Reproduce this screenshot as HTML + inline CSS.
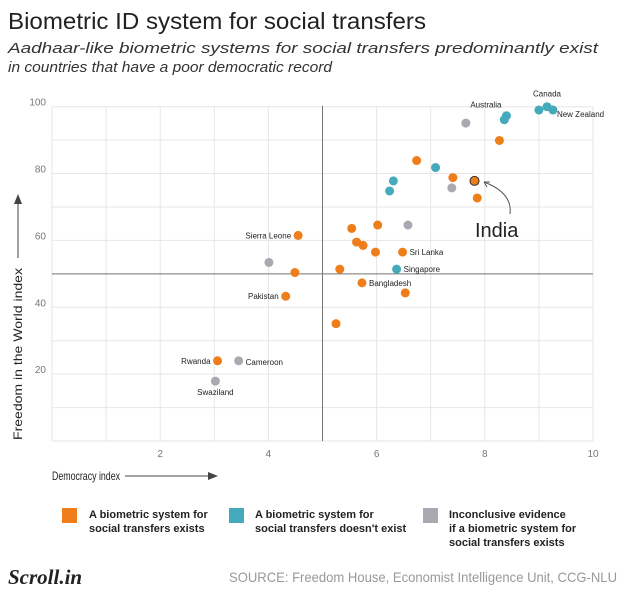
<!DOCTYPE html>
<html><head><meta charset="utf-8"><style>
body{margin:0;background:#fff;}
svg{display:block;font-family:"Liberation Sans",sans-serif;}
</style></head><body>
<svg id="chart" width="640" height="614" viewBox="0 0 640 614">
<text x="8" y="29" font-size="23" fill="#222" textLength="418" lengthAdjust="spacingAndGlyphs">Biometric ID system for social transfers</text>
<text x="8" y="53" font-size="15" font-style="italic" fill="#333" textLength="590" lengthAdjust="spacingAndGlyphs">Aadhaar-like biometric systems for social transfers predominantly exist</text>
<text x="8" y="72" font-size="15" font-style="italic" fill="#333" textLength="324" lengthAdjust="spacingAndGlyphs">in countries that have a poor democratic record</text>
<g id="grid"></g>
<g id="axes"></g>
<g id="points"></g>
<g id="labels"></g>
<text x="475" y="237" font-size="20" fill="#222">India</text>
<path d="M510,214 C512,198 500,188 484,182" fill="none" stroke="#555" stroke-width="1"/>
<path d="M484,182 l6,0 M484,182 l3,5" stroke="#555" stroke-width="1"/>
<text x="52" y="480" font-size="12" fill="#222" textLength="68" lengthAdjust="spacingAndGlyphs">Democracy index</text>
<line x1="125" y1="476" x2="212" y2="476" stroke="#444" stroke-width="1"/>
<polygon points="218,476 208,472 208,480" fill="#444"/>
<text transform="translate(22,440) rotate(-90)" font-size="12" fill="#222" textLength="172" lengthAdjust="spacingAndGlyphs">Freedom in the World index</text>
<line x1="18" y1="258" x2="18" y2="200" stroke="#444" stroke-width="1"/>
<polygon points="18,194 14,204 22,204" fill="#444"/>
<g>
<rect x="62" y="508" width="15" height="15" fill="#ee7d1a"/>
<text font-size="11" font-weight="bold" fill="#222"><tspan x="89" y="518">A biometric system for</tspan><tspan x="89" y="532">social transfers exists</tspan></text>
<rect x="229" y="508" width="15" height="15" fill="#45aabb"/>
<text font-size="11" font-weight="bold" fill="#222"><tspan x="255" y="518">A biometric system for</tspan><tspan x="255" y="532">social transfers doesn't exist</tspan></text>
<rect x="423" y="508" width="15" height="15" fill="#a9a9b2"/>
<text font-size="11" font-weight="bold" fill="#222"><tspan x="449" y="518">Inconclusive evidence</tspan><tspan x="449" y="532">if a biometric system for</tspan><tspan x="449" y="546">social transfers exists</tspan></text>
</g>
<text x="8" y="584" font-family="Liberation Serif,serif" font-size="21" font-style="italic" font-weight="bold" fill="#222">Scroll.in</text>
<text x="229" y="582" font-size="14" fill="#999" textLength="388" lengthAdjust="spacingAndGlyphs">SOURCE: Freedom House, Economist Intelligence Unit, CCG-NLU</text>
</svg>
<script>
const xVals=[9.0,9.15,9.26,8.4,8.36,7.65,8.27,6.74,7.09,7.41,7.81,7.39,7.86,6.31,6.24,5.54,6.02,6.58,4.55,5.63,5.75,5.98,6.48,4.01,4.49,5.32,6.37,5.73,6.53,4.32,5.25,3.06,3.45,3.02];
const yVals=[99,100,99,97.3,96.1,95.1,89.9,83.9,81.8,78.8,77.8,75.7,72.7,77.8,74.8,63.6,64.6,64.6,61.5,59.5,58.5,56.5,56.5,53.4,50.4,51.4,51.4,47.3,44.3,43.3,35.1,24,24,17.9];
const groups=["n","n","n","n","n","g","e","e","n","e","e","g","e","n","n","e","e","g","e","e","e","e","e","g","e","e","n","e","e","e","e","e","g","g"];
const names=["","Canada","New Zealand","Australia","","","","","","","India","","","","","","","","Sierra Leone","","","","Sri Lanka","","","","Singapore","Bangladesh","","Pakistan","","Rwanda","Cameroon","Swaziland"];
const xTicks=[2,4,6,8,10];
const yTicks=[20,40,60,80,100];
const colors={e:"#ee7d1a",n:"#45aabb",g:"#a9a9b2"};
const X=v=>52+v*54.1, Y=v=>441-v*3.343;
const NS="http://www.w3.org/2000/svg";
function mk(tag,attrs,parent){const el=document.createElementNS(NS,tag);for(const k in attrs)el.setAttribute(k,attrs[k]);document.getElementById(parent).appendChild(el);return el;}
for(let i=0;i<=10;i++){const l=mk("line",{x1:X(i),x2:X(i),y1:Y(100),y2:Y(0),stroke:"#e6e6e6","stroke-width":1},"grid");

}
for(let j=0;j<=100;j+=10){const l=mk("line",{x1:X(0),x2:X(10),y1:Y(j),y2:Y(j),stroke:"#e6e6e6","stroke-width":1},"grid");

}
let m1=mk("line",{x1:X(5),x2:X(5),y1:Y(100)-1,y2:Y(0),stroke:"#777","stroke-width":1},"axes");


let m2=mk("line",{x1:X(0),x2:X(10),y1:Y(50),y2:Y(50),stroke:"#777","stroke-width":1},"axes");


xTicks.forEach(t=>{const e=mk("text",{x:X(t),y:457,"font-size":10,fill:"#777","text-anchor":"middle"},"axes");e.textContent=t;

});
yTicks.forEach(t=>{const e=mk("text",{x:46,y:Y(t)-1,"font-size":10,fill:"#777","text-anchor":"end"},"axes");e.textContent=t;

});
xVals.forEach((xv,i)=>{const isIndia=names[i]==="India";
const c=mk("circle",{cx:X(xv),cy:Y(yVals[i]),r:4.5,fill:colors[groups[i]],stroke:isIndia?"#333":"none","stroke-width":1},"points");


const n=names[i];if(!n||isIndia)return;
let dx=7,dy=3,anchor="start";
if(n==="Sierra Leone"||n==="Pakistan"||n==="Rwanda"){dx=-7;anchor="end";}
if(n==="Canada"){dx=0;dy=-10;anchor="middle";}
if(n==="Australia"){dx=-5;dy=-8;anchor="end";}
if(n==="New Zealand"){dx=4;dy=7;}
if(n==="Swaziland"){dx=0;dy=14;anchor="middle";}
if(n==="Cameroon"){dy=4;}
const t=mk("text",{x:X(xv)+dx,y:Y(yVals[i])+dy,"font-size":8,fill:"#222","text-anchor":anchor},"labels");t.textContent=n;

});
</script>
</body></html>
